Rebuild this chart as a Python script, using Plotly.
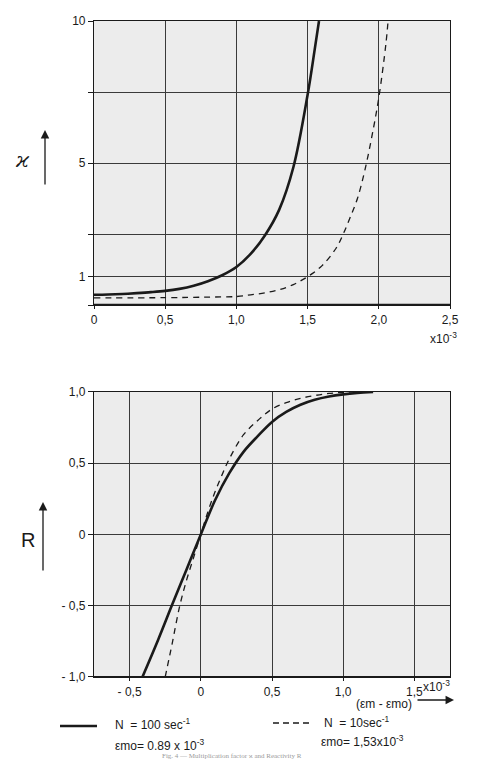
import plotly.graph_objects as go

# ---- data (top: multiplication factor kappa vs strain, x10^-3) ----
k_x_solid = [0, 0.1, 0.2, 0.3, 0.4, 0.5, 0.6, 0.7, 0.8, 0.9, 1.0, 1.1, 1.2, 1.3, 1.4, 1.5, 1.55, 1.58]
k_y_solid = [0.36, 0.37, 0.39, 0.42, 0.455, 0.5, 0.57, 0.68, 0.84, 1.05, 1.34, 1.8, 2.45, 3.35, 4.85, 7.4, 9.0, 10.0]
k_x_dash = [0, 0.5, 0.8, 1.0, 1.1, 1.2, 1.3, 1.4, 1.5, 1.6, 1.7, 1.75, 1.8, 1.85, 1.9, 1.95, 2.0, 2.05, 2.065]
k_y_dash = [0.25, 0.26, 0.28, 0.3, 0.36, 0.43, 0.54, 0.72, 1.0, 1.38, 2.0, 2.5, 3.1, 3.75, 4.7, 5.9, 7.3, 9.2, 10.0]

# ---- data (bottom: reactivity R vs (em - emo), x10^-3) ----
r_x_solid = [-0.41, -0.3, -0.2, -0.1, 0, 0.1, 0.2, 0.3, 0.4, 0.5, 0.6, 0.7, 0.8, 0.9, 1.0, 1.1, 1.21]
r_y_solid = [-1.0, -0.74, -0.49, -0.245, 0, 0.24, 0.43, 0.58, 0.69, 0.79, 0.86, 0.91, 0.945, 0.968, 0.983, 0.993, 1.0]
r_x_dash = [-0.25, -0.2, -0.15, -0.1, -0.05, 0, 0.05, 0.1, 0.15, 0.2, 0.3, 0.4, 0.5, 0.6, 0.7, 0.8, 0.9, 1.07]
r_y_dash = [-1.0, -0.76, -0.51, -0.32, -0.16, 0.0, 0.16, 0.3, 0.42, 0.53, 0.7, 0.8, 0.88, 0.925, 0.955, 0.975, 0.99, 1.0]

top_xticks = [0, 0.5, 1.0, 1.5, 2.0, 2.5]
top_xtext = ["0", "0,5", "1,0", "1,5", "2,0", "2,5"]
top_yticks = [0, 1, 2.5, 5, 7.5, 10]
top_ytext = ["", "1", "", "5", "", "10"]
bot_xticks = [-0.5, 0, 0.5, 1.0, 1.5]
bot_xtext = ["- 0,5", "0", "0,5", "1,0", "1,5"]
bot_yticks = [-1.0, -0.5, 0, 0.5, 1.0]
bot_ytext = ["- 1,0", "- 0,5", "0", "0,5", "1,0"]

INK = "#1a1a1a"
GRID = "#3a3a3a"
FONT = "Liberation Sans"
FS = 12

fig = go.Figure()
fig.add_trace(go.Scatter(x=k_x_solid, y=k_y_solid, mode="lines",
                         line=dict(color=INK, width=2.6, shape="spline", smoothing=1.0),
                         xaxis="x", yaxis="y", showlegend=False))
fig.add_trace(go.Scatter(x=k_x_dash, y=k_y_dash, mode="lines",
                         line=dict(color=INK, width=1.3, dash="6px,5px", shape="spline", smoothing=1.0),
                         xaxis="x", yaxis="y", showlegend=False))
fig.add_trace(go.Scatter(x=r_x_solid, y=r_y_solid, mode="lines",
                         line=dict(color=INK, width=2.6, shape="spline", smoothing=1.0),
                         xaxis="x2", yaxis="y2", showlegend=False))
fig.add_trace(go.Scatter(x=r_x_dash, y=r_y_dash, mode="lines",
                         line=dict(color=INK, width=1.3, dash="6px,5px", shape="spline", smoothing=1.0),
                         xaxis="x2", yaxis="y2", showlegend=False))

axis_common = dict(showgrid=True, gridcolor=GRID, gridwidth=1, zeroline=False,
                   showline=True, linecolor=INK, linewidth=1.2, mirror=True,
                   ticks="outside", tickcolor=INK, tickwidth=1,
                   tickfont=dict(family=FONT, size=FS, color=INK))

fig.update_layout(
    width=491, height=760,
    margin=dict(l=94, r=41, t=21, b=83),
    paper_bgcolor="white", plot_bgcolor="#ececec",
    xaxis=dict(domain=[0, 1], range=[0, 2.5], tickvals=top_xticks, ticktext=top_xtext,
               anchor="y", ticklen=3, **axis_common),
    yaxis=dict(domain=[0.567, 1.0], range=[0, 10], tickvals=top_yticks, ticktext=top_ytext,
               anchor="x", ticklen=5, **axis_common),
    xaxis2=dict(domain=[0, 1], range=[-0.75, 1.75], tickvals=bot_xticks, ticktext=bot_xtext,
                anchor="y2", ticklen=3, **axis_common),
    yaxis2=dict(domain=[0, 0.4345], range=[-1.0, 1.0], tickvals=bot_yticks, ticktext=bot_ytext,
                anchor="x2", ticklen=5, **axis_common),
    showlegend=False,
)

# thick baseline lines
fig.add_shape(type="line", xref="x domain", yref="y", x0=0, x1=1, y0=0, y1=0,
              line=dict(color=INK, width=2.5))
fig.add_shape(type="line", xref="x2 domain", yref="y2", x0=0, x1=1, y0=-1, y1=-1,
              line=dict(color=INK, width=2.2))

# helper for pixel placement
W, H = 491, 760
L, R, T, B = 94, 41, 21, 83
pw, ph = W - L - R, H - T - B
def px(xp):
    return (xp - L) / pw
def py(yp):
    return (H - B - yp) / ph

def f(size=FS, family=FONT, color=INK):
    return dict(family=family, size=size, color=color)

ann = [
    dict(x=px(459), y=py(338), text="x10<sup>-3</sup>", xanchor="right", yanchor="middle", font=f()),
    dict(x=px(421), y=py(686), text="x10<sup>-3</sup>", xanchor="left", yanchor="middle", font=f()),
    dict(x=px(22), y=py(160), text="<i>ϰ</i>", xanchor="center", yanchor="middle",
         font=f(21, "DejaVu Serif")),
    dict(x=px(28), y=py(540), text="R", xanchor="center", yanchor="middle", font=f(20)),
    dict(x=px(414), y=py(704), text="(εm - εmo)", xanchor="right", yanchor="middle", font=f()),
    dict(x=px(113), y=py(724), text="N  = 100 sec<sup>-1</sup>", xanchor="left", yanchor="middle", font=f()),
    dict(x=px(113), y=py(745), text="εmo= 0.89 x 10<sup>-3</sup>", xanchor="left", yanchor="middle", font=f()),
    dict(x=px(322), y=py(722), text="N  = 10sec<sup>-1</sup>", xanchor="left", yanchor="middle", font=f()),
    dict(x=px(319), y=py(741), text="εmo= 1,53x10<sup>-3</sup>", xanchor="left", yanchor="middle", font=f()),
    dict(x=px(232), y=py(756), text="Fig. 4 — Multiplication factor ϰ and Reactivity R", xanchor="center",
         yanchor="middle", font=f(7, "Liberation Serif", "#9a9a9a")),
]
for a in ann:
    a.update(xref="paper", yref="paper", showarrow=False)

# arrows: head position (pixels) and tail offset (pixels)
arrows = [
    ((45, 130), (0, 56)),
    ((43, 502), (0, 70)),
    ((454, 700), (-38, 0)),
]
for (hx, hy), (dx, dy) in arrows:
    ann.append(dict(xref="paper", yref="paper", x=px(hx), y=py(hy), ax=dx, ay=dy,
                    axref="pixel", ayref="pixel", text="", showarrow=True,
                    arrowhead=2, arrowsize=1.3, arrowwidth=1.3, arrowcolor=INK))
fig.update_layout(annotations=ann)

# legend line samples
fig.add_shape(type="line", xref="paper", yref="paper", x0=px(60), x1=px(97), y0=py(726), y1=py(726),
              line=dict(color=INK, width=2.6))
fig.add_shape(type="line", xref="paper", yref="paper", x0=px(273), x1=px(312), y0=py(723), y1=py(723),
              line=dict(color=INK, width=1.3, dash="6px,4px"))

fig.write_html("out.html")
